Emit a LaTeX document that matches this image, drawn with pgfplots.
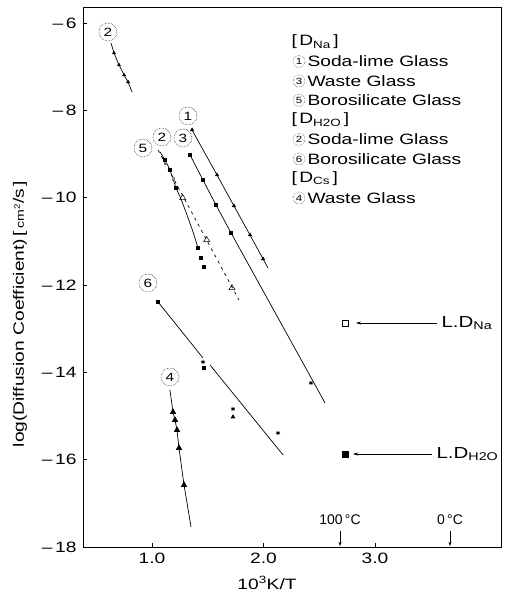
\documentclass[border=0pt]{standalone}
\usepackage{fontspec}
\setmainfont{Liberation Sans}[FakeStretch=1.28]
\newfontfamily\narrowfont{Liberation Sans}
\usepackage{pgfplots}
\pgfplotsset{compat=1.18}
\usetikzlibrary{arrows.meta}

\newcommand\fs[1]{\fontsize{#1}{#1}\selectfont}

\tikzset{
  circnum/.style={circle, draw, densely dotted, line width=0.5pt, inner sep=0pt,
    minimum size=18pt, font=\fs{12}},
  legnum/.style={circle, draw, densely dotted, line width=0.4pt, inner sep=0pt,
    minimum size=12pt, font=\fs{9}},
}

\begin{document}
\begin{tikzpicture}
\path[use as bounding box] (-83pt,-46pt) rectangle (422pt,547pt);
\begin{axis}[
  at={(0,0)}, anchor=south west,
  scale only axis, width=418pt, height=540pt,
  xmin=0.381, xmax=4.13, ymin=-18, ymax=-5.634,
  xtick={1,2,3}, xticklabels={1.0,2.0,3.0},
  ytick={-18,-16,-14,-12,-10,-8,-6},
  yticklabels={{--\,18},{--\,16},{--\,14},{--\,12},{--\,10},{--\,8},{--\,6}},
  xtick pos=left, ytick pos=left,
  tick align=inside, major tick length=4pt,
  tick style={line width=0.6pt, black},
  tick label style={font=\fs{15}},
  yticklabel style={xshift=-3pt},
  xticklabel style={yshift=-2pt},
  axis line style={line width=0.8pt},
  /pgf/number format/assume math mode=true,
  clip=false,
  every axis plot/.append style={line width=0.7pt, black},
]

% D_H2O, soda-lime glass (high temperature branch)
\addplot[mark=triangle*, mark size=1.6pt, mark indices={2,3,4,5}] coordinates {
  (0.632,-6.458) (0.659,-6.687) (0.704,-6.962) (0.749,-7.191) (0.785,-7.351) (0.821,-7.580)
};

% D_Na, soda-lime glass
\addplot[mark=triangle*, mark size=1.8pt] coordinates {
  (1.359,-8.450) (1.583,-9.481) (1.735,-10.190) (1.879,-10.855) (1.996,-11.404)
};
\addplot[no marks] coordinates {(1.996,-11.404) (2.040,-11.610)};

% D_Na, waste glass
\addplot[mark=square*, mark size=1.4pt, mark indices={1,2,3,4}] coordinates {
  (1.341,-9.023) (1.457,-9.595) (1.574,-10.168) (1.709,-10.809) (2.552,-14.702)
};
\addplot[only marks, mark=asterisk, mark size=2.2pt] coordinates {(2.426,-14.244)};

% D_Na, borosilicate glass
\addplot[dash pattern=on 3pt off 4pt, no marks] coordinates {
  (1.054,-8.908) (1.780,-12.343)
};
\addplot[only marks, mark=triangle, mark size=3.5pt, line width=0.5pt] coordinates {
  (1.275,-10.007) (1.490,-10.969) (1.717,-12.068)
};
\addplot[only marks, mark=square, mark size=1.3pt, gray, line width=0.4pt] coordinates {
  (1.117,-9.200) (1.190,-9.560)
};

% D_H2O, soda-lime glass
\addplot[mark=square*, mark size=1.5pt, mark indices={2,3,4,8}] coordinates {
  (1.072,-8.954) (1.117,-9.137) (1.161,-9.366) (1.215,-9.778) (1.260,-10.030)
  (1.314,-10.397) (1.368,-10.786) (1.413,-11.152)
};
\addplot[only marks, mark=square*, mark size=1.5pt] coordinates {
  (1.439,-11.381) (1.466,-11.587)
};

% D_H2O, borosilicate glass
\addplot[mark=square*, mark size=1.4pt, mark indices={1}] coordinates {
  (1.054,-12.389) (1.457,-13.671)
};
\addplot[no marks] coordinates {(1.520,-13.831) (2.175,-15.892)};
\addplot[only marks, mark=asterisk, mark size=2.2pt] coordinates {
  (1.457,-13.763) (1.726,-14.839) (2.130,-15.389)
};
\addplot[only marks, mark=square*, mark size=1.5pt] coordinates {(1.466,-13.900)};
\addplot[only marks, mark=triangle*, mark size=2pt] coordinates {(1.726,-15.022)};

% D_Cs, waste glass
\addplot[mark=triangle*, mark size=3pt, mark indices={2,3,4,5,6}] coordinates {
  (1.161,-14.404) (1.188,-14.908) (1.206,-15.091) (1.224,-15.320)
  (1.242,-15.732) (1.287,-16.579) (1.350,-17.541)
};

% liquid-phase diffusion coefficients
\addplot[only marks, mark=square, mark size=3pt, line width=0.6pt] coordinates {(2.731,-12.870)};
\addplot[only marks, mark=square*, mark size=3pt] coordinates {(2.731,-15.869)};

\end{axis}

% annotations, in a frame measured from the upper left corner of the figure
\begin{scope}[shift={(-83pt,547pt)}, x=1pt, y=-1pt]
  % axis titles
  \node[font=\fs{15}] at (267,583) {10\textsuperscript{3}K/T};
  \node[font=\fs{15}, rotate=90] at (20,314)
    {log(Diffusion Coefficient)\,[\,{\fs{11}cm\textsuperscript{2}}/s\,]};

  % curve labels
  \node[circnum] at (108,32) {2};
  \node[circnum] at (188,116) {1};
  \node[circnum] at (183,138) {3};
  \node[circnum] at (162,137) {2};
  \node[circnum] at (143,148) {5};
  \node[circnum] at (148,283) {6};
  \node[circnum] at (170,377) {4};

  % key
  \begin{scope}[every node/.style={font=\fs{15}}]
    \node[anchor=west] at (288,42)  {[\,D\textsubscript{Na}\,]};
    \node[legnum] at (299,61.5) {1};
    \node[anchor=west] at (304,61.5) {Soda-lime Glass};
    \node[legnum] at (299,81) {3};
    \node[anchor=west] at (304,81) {Waste Glass};
    \node[legnum] at (299,100.5) {5};
    \node[anchor=west] at (304,100.5) {Borosilicate Glass};
    \node[anchor=west] at (288,120) {[\,D\textsubscript{H2O}\,]};
    \node[legnum] at (299,139.5) {2};
    \node[anchor=west] at (304,139.5) {Soda-lime Glass};
    \node[legnum] at (299,159) {6};
    \node[anchor=west] at (304,159) {Borosilicate Glass};
    \node[anchor=west] at (288,178.5) {[\,D\textsubscript{Cs}\,]};
    \node[legnum] at (299,198) {4};
    \node[anchor=west] at (304,198) {Waste Glass};
  \end{scope}

  % liquid-phase markers
  \draw[line width=0.5pt, -{Stealth[length=5pt,width=3pt]}] (437,323) -- (356,323);
  \node[anchor=west, font=\fs{16}] at (438,323) {L.D\textsubscript{Na}};
  \draw[line width=0.5pt, -{Stealth[length=5pt,width=3pt]}] (432,454) -- (353,454);
  \node[anchor=west, font=\fs{16}] at (433,454) {L.D\textsubscript{H2O}};

  % temperature marks
  \node[font=\narrowfont\fs{14}] at (340,520) {100\,°C};
  \draw[line width=0.5pt, -{Stealth[length=4pt,width=3pt]}] (340,531) -- (340,546);
  \node[font=\narrowfont\fs{14}] at (450,520) {0\,°C};
  \draw[line width=0.5pt, -{Stealth[length=4pt,width=3pt]}] (450,531) -- (450,546);
\end{scope}
\end{tikzpicture}
\end{document}
